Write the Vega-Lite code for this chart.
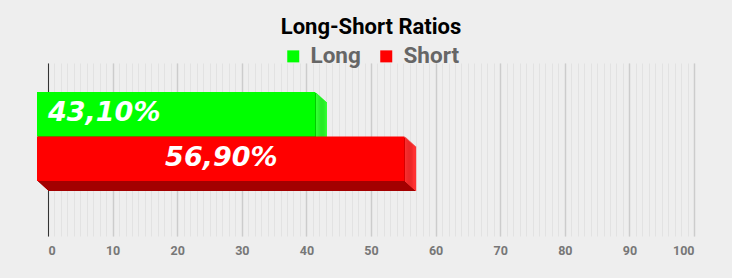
{
  "$schema": "https://vega.github.io/schema/vega-lite/v6.json",
  "width": 646,
  "height": 173,
  "autosize": {"type": "none"},
  "padding": {"left": 48, "top": 63, "right": 38, "bottom": 42},
  "background": "#eeeeee",
  "config": {
    "view": {"stroke": null},
    "legend": {"layout": {"top": {"anchor": "middle"}}}
  },
  "title": {"text": "Long-Short Ratios", "font": "Roboto", "fontSize": 22, "fontWeight": "bold", "color": "#000000", "anchor": "middle", "offset": 6},
  "data": {"values": [
    {"side": "Long", "value": 43.1, "label": "43,10%"},
    {"side": "Short", "value": 56.9, "label": "56,90%"}
  ]},
  "encoding": {
    "x": {"field": "value", "type": "quantitative", "stack": null, "scale": {"domain": [0, 100], "nice": false, "zero": true}, "axis": null},
    "x2": {"datum": 0},
    "y": {"field": "side", "type": "nominal", "scale": {"domain": ["Long", "Short"], "paddingInner": 0, "paddingOuter": 0.944, "align": 0.464},
      "axis": {"labels": false, "ticks": false, "domain": true, "domainColor": "#333333", "domainWidth": 1, "grid": false, "title": null}}
  },
  "layer": [
    {"mark": {"type": "bar", "opacity": 1, "clip": false},
     "encoding": {
       "x": {"field": "value", "type": "quantitative", "stack": null, "axis": {"orient": "bottom", "values": [0,1,2,3,4,5,6,7,8,9,10,11,12,13,14,15,16,17,18,19,20,21,22,23,24,25,26,27,28,29,30,31,32,33,34,35,36,37,38,39,40,41,42,43,44,45,46,47,48,49,50,51,52,53,54,55,56,57,58,59,60,61,62,63,64,65,66,67,68,69,70,71,72,73,74,75,76,77,78,79,80,81,82,83,84,85,86,87,88,89,90,91,92,93,94,95,96,97,98,99,100], "grid": true, "gridColor": "#e2e2e2", "gridWidth": 1, "labels": false, "ticks": false, "domain": false, "title": null}},
       "color": {"condition": {"test": "datum.side === 'Long'", "value": "#00a000"}, "value": "#a30000"}}},
    {"mark": {"type": "tick", "orient": "vertical", "size": 44.5, "thickness": 1.2, "opacity": 1},
     "encoding": {"x2": null, "color": {"condition": {"test": "datum.side === 'Long'", "value": "#33ff33"}, "value": "#ff3333"}}},

    {"mark": {"type": "bar", "opacity": 1, "xOffset": -1.1, "x2Offset": -1.1, "yOffset": -1, "y2Offset": -1},
     "encoding": {"color": {"condition": {"test": "datum.side === 'Long'", "value": "#00a000"}, "value": "#a30000"}}},
    {"mark": {"type": "tick", "orient": "vertical", "size": 44.5, "thickness": 1.2, "opacity": 1, "xOffset": -1.1, "yOffset": -1},
     "encoding": {"x2": null, "color": {"condition": {"test": "datum.side === 'Long'", "value": "#33ff33"}, "value": "#ff3333"}}},

    {"mark": {"type": "bar", "opacity": 1, "xOffset": -2.2, "x2Offset": -2.2, "yOffset": -2, "y2Offset": -2},
     "encoding": {"color": {"condition": {"test": "datum.side === 'Long'", "value": "#00a000"}, "value": "#a30000"}}},
    {"mark": {"type": "tick", "orient": "vertical", "size": 44.5, "thickness": 1.2, "opacity": 1, "xOffset": -2.2, "yOffset": -2},
     "encoding": {"x2": null, "color": {"condition": {"test": "datum.side === 'Long'", "value": "#33ff33"}, "value": "#ff3333"}}},

    {"mark": {"type": "bar", "opacity": 1, "xOffset": -3.3, "x2Offset": -3.3, "yOffset": -3, "y2Offset": -3},
     "encoding": {"color": {"condition": {"test": "datum.side === 'Long'", "value": "#00a000"}, "value": "#a30000"}}},
    {"mark": {"type": "tick", "orient": "vertical", "size": 44.5, "thickness": 1.2, "opacity": 1, "xOffset": -3.3, "yOffset": -3},
     "encoding": {"x2": null, "color": {"condition": {"test": "datum.side === 'Long'", "value": "#33ff33"}, "value": "#ff3333"}}},

    {"mark": {"type": "bar", "opacity": 1, "xOffset": -4.4, "x2Offset": -4.4, "yOffset": -4, "y2Offset": -4},
     "encoding": {"color": {"condition": {"test": "datum.side === 'Long'", "value": "#00a000"}, "value": "#a30000"}}},
    {"mark": {"type": "tick", "orient": "vertical", "size": 44.5, "thickness": 1.2, "opacity": 1, "xOffset": -4.4, "yOffset": -4},
     "encoding": {"x2": null, "color": {"condition": {"test": "datum.side === 'Long'", "value": "#33ff33"}, "value": "#ff3333"}}},

    {"mark": {"type": "bar", "opacity": 1, "xOffset": -5.5, "x2Offset": -5.5, "yOffset": -5, "y2Offset": -5},
     "encoding": {"color": {"condition": {"test": "datum.side === 'Long'", "value": "#00a000"}, "value": "#a30000"}}},
    {"mark": {"type": "tick", "orient": "vertical", "size": 44.5, "thickness": 1.2, "opacity": 1, "xOffset": -5.5, "yOffset": -5},
     "encoding": {"x2": null, "color": {"condition": {"test": "datum.side === 'Long'", "value": "#33ff33"}, "value": "#ff3333"}}},

    {"mark": {"type": "bar", "opacity": 1, "xOffset": -6.6, "x2Offset": -6.6, "yOffset": -6, "y2Offset": -6},
     "encoding": {"color": {"condition": {"test": "datum.side === 'Long'", "value": "#00a000"}, "value": "#a30000"}}},
    {"mark": {"type": "tick", "orient": "vertical", "size": 44.5, "thickness": 1.2, "opacity": 1, "xOffset": -6.6, "yOffset": -6},
     "encoding": {"x2": null, "color": {"condition": {"test": "datum.side === 'Long'", "value": "#33ff33"}, "value": "#ff3333"}}},

    {"mark": {"type": "bar", "opacity": 1, "xOffset": -7.7, "x2Offset": -7.7, "yOffset": -7, "y2Offset": -7},
     "encoding": {"color": {"condition": {"test": "datum.side === 'Long'", "value": "#00a000"}, "value": "#a30000"}}},
    {"mark": {"type": "tick", "orient": "vertical", "size": 44.5, "thickness": 1.2, "opacity": 1, "xOffset": -7.7, "yOffset": -7},
     "encoding": {"x2": null, "color": {"condition": {"test": "datum.side === 'Long'", "value": "#33ff33"}, "value": "#ff3333"}}},

    {"mark": {"type": "bar", "opacity": 1, "xOffset": -8.8, "x2Offset": -8.8, "yOffset": -8, "y2Offset": -8},
     "encoding": {"color": {"condition": {"test": "datum.side === 'Long'", "value": "#00a000"}, "value": "#a30000"}}},
    {"mark": {"type": "tick", "orient": "vertical", "size": 44.5, "thickness": 1.2, "opacity": 1, "xOffset": -8.8, "yOffset": -8},
     "encoding": {"x2": null, "color": {"condition": {"test": "datum.side === 'Long'", "value": "#33ff33"}, "value": "#ff3333"}}},

    {"mark": {"type": "bar", "opacity": 1, "xOffset": -9.9, "x2Offset": -9.9, "yOffset": -9, "y2Offset": -9},
     "encoding": {"color": {"condition": {"test": "datum.side === 'Long'", "value": "#00a000"}, "value": "#a30000"}}},
    {"mark": {"type": "tick", "orient": "vertical", "size": 44.5, "thickness": 1.2, "opacity": 1, "xOffset": -9.9, "yOffset": -9},
     "encoding": {"x2": null, "color": {"condition": {"test": "datum.side === 'Long'", "value": "#33ff33"}, "value": "#ff3333"}}},

    {"mark": {"type": "bar", "opacity": 1, "xOffset": -11, "x2Offset": -11, "yOffset": -10, "y2Offset": -10},
     "encoding": {
       "x": {"field": "value", "type": "quantitative", "stack": null, "axis": {"orient": "bottom", "values": [0,10,20,30,40,50,60,70,80,90,100], "grid": true, "gridColor": "#cccccc", "gridWidth": 1.5, "labels": true, "labelFont": "Roboto", "labelFontSize": 12.5, "labelFontWeight": "bold", "labelColor": "#777777", "labelPadding": 8, "ticks": false, "domain": false, "title": null}},
       "color": {"field": "side", "type": "nominal", "scale": {"domain": ["Long", "Short"], "range": ["#00ff00", "#ff0000"]},
         "legend": {"orient": "top", "direction": "horizontal", "title": null, "offset": -5, "symbolType": "square", "symbolSize": 144, "symbolStrokeWidth": 0, "labelFont": "Roboto", "labelFontSize": 22.5, "labelFontWeight": "bold", "labelColor": "#666666", "labelOffset": 6, "columnPadding": 14}}}},

    {"transform": [{"filter": "datum.side === 'Long'"}],
     "mark": {"type": "text", "align": "left", "baseline": "middle", "yOffset": -11, "font": "DejaVu Sans", "fontSize": 27, "fontWeight": "bold", "fontStyle": "italic", "color": "#ffffff"},
     "encoding": {"x": {"datum": 0, "type": "quantitative"}, "x2": null, "text": {"field": "label"}}},
    {"transform": [{"filter": "datum.side === 'Short'"}],
     "mark": {"type": "text", "align": "right", "baseline": "middle", "xOffset": -138, "yOffset": -11, "font": "DejaVu Sans", "fontSize": 27, "fontWeight": "bold", "fontStyle": "italic", "color": "#ffffff"},
     "encoding": {"x2": null, "text": {"field": "label"}}}
  ],
  "resolve": {"axis": {"x": "independent"}}
}
